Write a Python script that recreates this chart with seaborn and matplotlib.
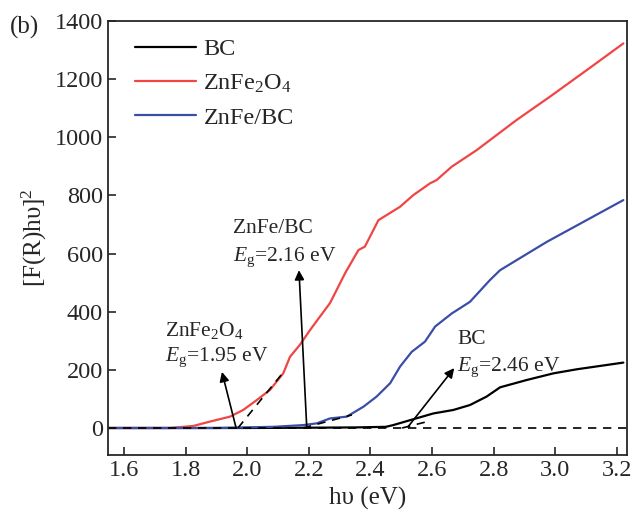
import matplotlib
matplotlib.use("Agg")
import matplotlib.pyplot as plt
import seaborn as sns
import pandas as pd
import numpy as np

# data
bc_x = [1.55, 1.80, 2.00, 2.20, 2.35, 2.45, 2.474, 2.529, 2.604, 2.669, 2.723, 2.777,
        2.821, 2.907, 2.994, 3.070, 3.221]
bc_y = [0, 0, 0, 1, 2, 4, 10, 27, 50, 62, 79, 108, 140, 165, 188, 202, 225]

zf_x = [1.55, 1.75, 1.825, 1.879, 1.944, 1.987, 2.031, 2.074, 2.117, 2.139, 2.171, 2.204,
        2.236, 2.269, 2.318, 2.361, 2.382, 2.426, 2.496, 2.539, 2.594, 2.615, 2.664,
        2.745, 2.875, 2.983, 3.102, 3.221]
zf_y = [0, 0, 7, 22, 39, 62, 96, 131, 188, 245, 286, 337, 383, 430, 533, 612, 624, 715,
        761, 801, 842, 853, 899, 956, 1060, 1140, 1231, 1323]

zbc_x = [1.55, 1.90, 2.085, 2.182, 2.226, 2.269, 2.323, 2.377, 2.420, 2.464, 2.496, 2.534,
         2.577, 2.610, 2.664, 2.723, 2.788, 2.821, 2.972, 3.221]
zbc_y = [0, 0, 4, 10, 16, 33, 39, 73, 108, 154, 211, 262, 297, 349, 394, 434, 509, 543,
         640, 784]

# tangent lines: (x0, y0, x1, y1)
tangents = [(1.97, 0, 2.116, 190), (2.181, 0, 2.34, 45), (2.503, 0, 2.577, 20)]
# arrows: tail -> head
arrows = [((1.964, 0), (1.918, 193)), ((2.193, 8), (2.168, 543)), ((2.522, 4), (2.672, 206))]
notes = [(1.733, 337, "ZnFe$_2$O$_4$"), (1.733, 244, "$E_\\mathrm{g}$=1.95 eV"),
         (1.954, 688, "ZnFe/BC"), (1.954, 588, "$E_\\mathrm{g}$=2.16 eV"),
         (2.681, 303, "BC"), (2.681, 208, "$E_\\mathrm{g}$=2.46 eV")]

df = pd.concat([
    pd.DataFrame({"x": bc_x, "y": bc_y, "s": "BC"}),
    pd.DataFrame({"x": zf_x, "y": zf_y, "s": "ZnFe$_2$O$_4$"}),
    pd.DataFrame({"x": zbc_x, "y": zbc_y, "s": "ZnFe/BC"}),
])
palette = {"BC": "black", "ZnFe$_2$O$_4$": "#F04545", "ZnFe/BC": "#3A4EA6"}

sns.set_style("ticks")
plt.rcParams["font.family"] = ["Liberation Serif", "DejaVu Serif"]
plt.rcParams["mathtext.fontset"] = "custom"
plt.rcParams["mathtext.rm"] = "Liberation Serif"
plt.rcParams["mathtext.it"] = "Liberation Serif:italic"

fig = plt.figure(figsize=(6.35, 5.13), dpi=100)
ax = fig.add_axes([0.170, 0.113, 0.817, 0.846])

sns.lineplot(data=df, x="x", y="y", hue="s", palette=palette, linewidth=1.6,
             sort=False, estimator=None, ax=ax)

ax.axhline(0, color="black", linestyle="--", linewidth=1.2, dashes=(5, 4))
for x0, y0, x1, y1 in tangents:
    ax.plot([x0, x1], [y0, y1], color="black", linestyle="--", linewidth=1.2, dashes=(5, 4))
for tail, head in arrows:
    ax.annotate("", xy=head, xytext=tail,
                arrowprops=dict(arrowstyle="-|>", color="black", lw=1.2,
                                mutation_scale=14, shrinkA=0, shrinkB=0))
for x, y, t in notes:
    ax.text(x, y, t, fontsize=15.5, ha="left", va="center")

ax.set_xlim(1.548, 3.232)
ax.set_ylim(-93, 1400)
ax.set_xticks(np.arange(1.6, 3.21, 0.2))
ax.set_xticklabels([f"{v:.1f}" for v in np.arange(1.6, 3.21, 0.2)])
ax.set_yticks(range(0, 1401, 200))
ax.tick_params(direction="in", length=6, width=1.2, labelsize=17.5)
for sp in ax.spines.values():
    sp.set_linewidth(1.3)

ax.set_xlabel("h\u03c5 (eV)", fontsize=18)
ax.set_ylabel("[F(R)h\u03c5]$^2$", fontsize=18)
ax.legend(loc="upper left", frameon=False, fontsize=17.5, handlelength=2.5,
          handletextpad=0.3, labelspacing=0.5, borderaxespad=0.3,
          bbox_to_anchor=(0.02, 1.0))
fig.text(0.015, 0.935, "(b)", fontsize=18)

fig.savefig("out.png", dpi=100)
